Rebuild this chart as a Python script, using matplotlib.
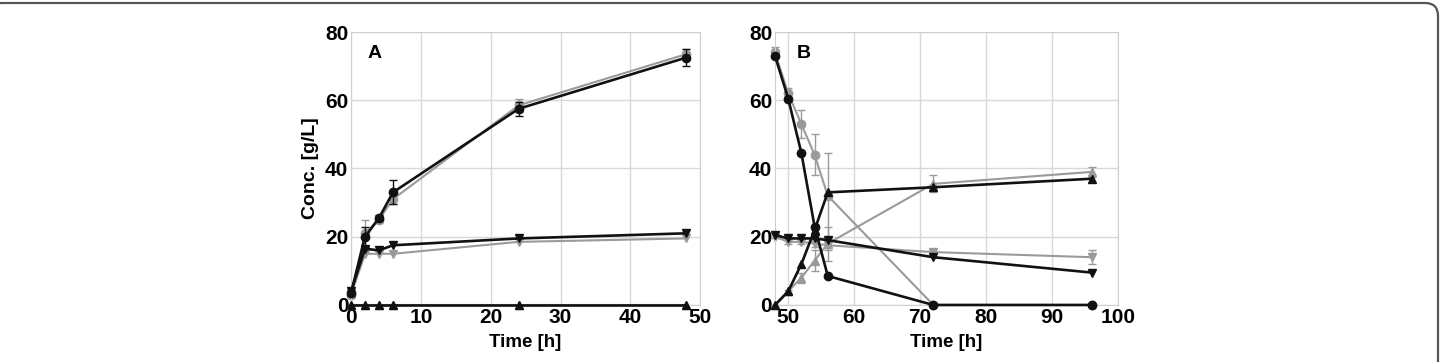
import numpy as np
import matplotlib.pyplot as plt
from matplotlib.patches import FancyBboxPatch

plt.rcParams['font.family'] = ['Liberation Sans', 'DejaVu Sans']
plt.rcParams['font.weight'] = 'bold'

# panel A
t_a = [0, 2, 4, 6, 24, 48]
a_circ_blk = [3.5, 20, 25.5, 33, 57.5, 72.5]
a_circ_blk_err = [1, 3, 1, 3.5, 2, 2.5]
a_circ_gry = [3, 21, 25, 31, 58.5, 73.5]
a_circ_gry_err = [1, 4, 1, 1.5, 2, 1.5]
a_down_blk = [4, 16.5, 16, 17.5, 19.5, 21]
a_down_gry = [3, 15, 15, 15, 18.5, 19.5]
a_up_blk = [0, 0, 0, 0, 0, 0]
a_up_gry = [0, 0, 0, 0, 0, 0]

# panel B
t_b = [48, 50, 52, 54, 56, 72, 96]
b_circ_blk = [73, 60.5, 44.5, 23, 8.5, 0, 0]
b_circ_gry = [74, 62, 53, 44, 32, 0, 0]
b_circ_gry_err = [1.5, 1.5, 4, 6, 12.5, 0, 0]
b_up_blk = [0, 4, 12, 22, 33, 34.5, 37]
b_up_gry = [0, 4, 8, 13, 18, 35.5, 39]
b_up_gry_err = [0, 0.5, 1.5, 3, 5, 2.5, 1.5]
b_down_blk = [20.5, 19.5, 19.5, 19.5, 19, 14, 9.5]
b_down_gry = [20, 18.5, 18.5, 18, 17.5, 15.5, 14]
b_down_gry_err = [0.5, 0.5, 0.5, 1, 1.5, 1, 2]

BLK = '#111111'
GRY = '#9a9a9a'

fig = plt.figure(figsize=(14.4, 3.62), dpi=100)
ax_a = fig.add_axes([0.2438, 0.1575, 0.2424, 0.7541])
ax_b = fig.add_axes([0.5382, 0.1575, 0.2382, 0.7541])


def series(ax, t, y, col, mk, err=None, z=2):
    ax.errorbar(t, y, yerr=err, color=col, marker=mk, markersize=6,
                lw=1.9 if col == BLK else 1.5, capsize=3, elinewidth=1,
                capthick=1, zorder=z, clip_on=False)


series(ax_a, t_a, a_circ_gry, GRY, 'o', a_circ_gry_err, 2)
series(ax_a, t_a, a_down_gry, GRY, 'v', None, 2)
series(ax_a, t_a, a_up_gry, GRY, '^', None, 2)
series(ax_a, t_a, a_circ_blk, BLK, 'o', a_circ_blk_err, 3)
series(ax_a, t_a, a_down_blk, BLK, 'v', None, 3)
series(ax_a, t_a, a_up_blk, BLK, '^', None, 3)

series(ax_b, t_b, b_circ_gry, GRY, 'o', b_circ_gry_err, 2)
series(ax_b, t_b, b_up_gry, GRY, '^', b_up_gry_err, 2)
series(ax_b, t_b, b_down_gry, GRY, 'v', b_down_gry_err, 2)
series(ax_b, t_b, b_circ_blk, BLK, 'o', None, 3)
series(ax_b, t_b, b_up_blk, BLK, '^', None, 3)
series(ax_b, t_b, b_down_blk, BLK, 'v', None, 3)

for ax, lim, ticks, lab in [(ax_a, (0, 50), range(0, 51, 10), 'A'),
                            (ax_b, (48, 100), range(50, 101, 10), 'B')]:
    ax.set_xlim(*lim)
    ax.set_ylim(0, 80)
    ax.set_xticks(list(ticks))
    ax.set_yticks(range(0, 81, 20))
    ax.grid(True, color='#d8d8d8', lw=1)
    ax.set_axisbelow(True)
    for s in ax.spines.values():
        s.set_color('#cfcfcf')
    ax.tick_params(length=0, labelsize=15, pad=2)
    for t in ax.get_xticklabels() + ax.get_yticklabels():
        t.set_fontweight('bold')
    ax.set_xlabel('Time [h]', fontsize=13.5, fontweight='bold', labelpad=5)
    ax.text(0.046 if lab == 'A' else 0.064, 0.92, lab, transform=ax.transAxes,
            fontsize=14, fontweight='bold', va='center')

ax_a.set_ylabel('Conc. [g/L]', fontsize=14, fontweight='bold', labelpad=4)

# page frame, left edge just outside the image
frame = FancyBboxPatch((-0.11, -0.5), 14.49, 4.09,
                       boxstyle='round,pad=0,rounding_size=0.13',
                       transform=fig.dpi_scale_trans, fill=False,
                       edgecolor='#555555', lw=1.6, clip_on=False)
fig.patches.append(frame)

fig.savefig('out.png', dpi=100)
